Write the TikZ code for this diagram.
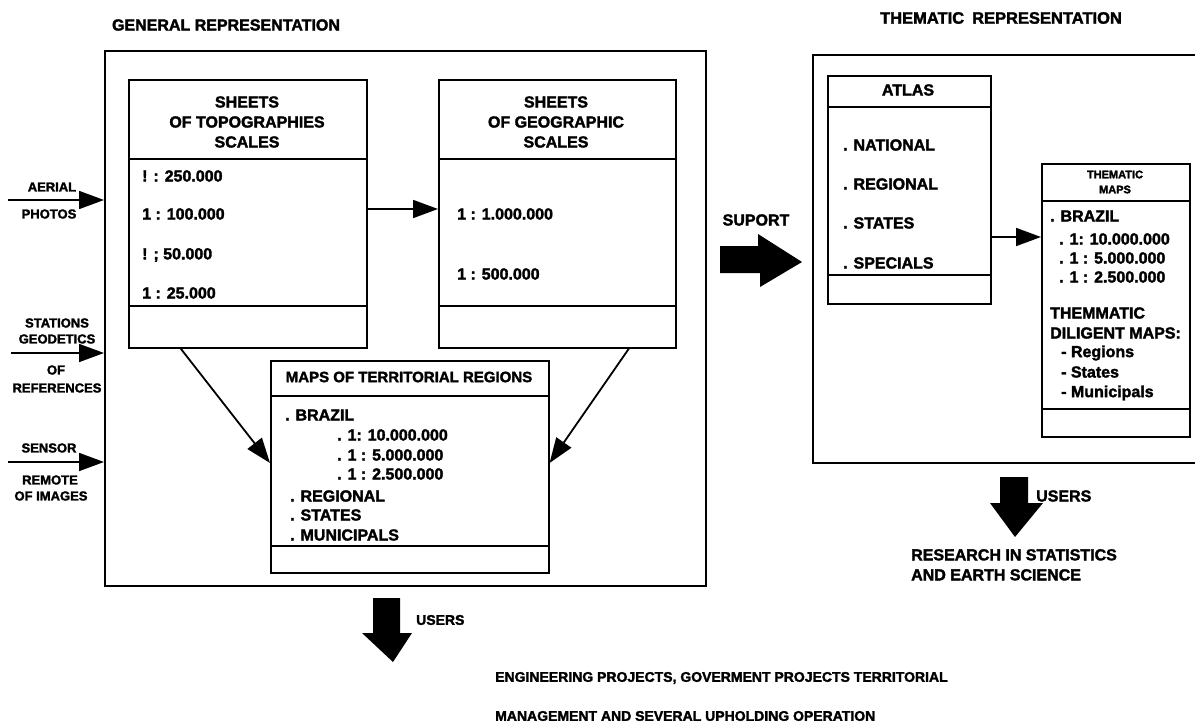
\documentclass[tikz,border=0pt]{standalone}
\usepackage{fontspec}
\setmainfont{Liberation Sans}[BoldFeatures={FakeBold=2}]
\usetikzlibrary{arrows.meta,calc}
\begin{document}
\begin{tikzpicture}[x=1pt,y=-1pt,
  frame/.style={draw, line width=1.6pt, inner sep=0pt, anchor=north west},
  divider/.style={line width=1.6pt},
  txt/.style={font=\bfseries\fontsize{16}{20}\selectfont, inner sep=0pt, anchor=west},
  ctxt/.style={font=\bfseries\fontsize{16}{20}\selectfont, inner sep=0pt, align=center},
  lbl/.style={font=\bfseries\fontsize{13}{16}\selectfont, inner sep=0pt, align=center},
  arr/.style={line width=1.8pt, -{Triangle[length=25pt,width=18pt]}},
  fatarrow/.style={fill=black}
]
\useasboundingbox (0,0) rectangle (1195,728);

% ---------- titles
\node[ctxt] (tgen) at (226,25) {GENERAL REPRESENTATION};
\node[ctxt, font=\bfseries\fontsize{16.5}{20}\selectfont] (tthem) at (1001,18) {THEMATIC\hspace{8pt}REPRESENTATION};

% ---------- general representation frame
\node[frame, minimum width=601pt, minimum height=535pt] (big) at (104,50) {};

% topographic sheets
\node[frame, minimum width=238pt, minimum height=268pt] (topo) at (128,79) {};
\draw[divider] (128,159) -- (366,159);
\draw[divider] (128,306) -- (366,306);
\node[ctxt] (topoh) at (247,122) {SHEETS\\OF TOPOGRAPHIES\\SCALES};
\node[txt] (t1) at (142,176) {! : 250.000};
\node[txt] (t2) at (142,214) {1 : 100.000};
\node[txt] (t3) at (142,255) {! ; 50.000};
\node[txt] (t4) at (142,293) {1 : 25.000};

% geographic sheets
\node[frame, minimum width=237pt, minimum height=268pt] (geo) at (438,79) {};
\draw[divider] (438,159) -- (675,159);
\draw[divider] (438,306) -- (675,306);
\node[ctxt] (geoh) at (556,122) {SHEETS\\OF GEOGRAPHIC\\SCALES};
\node[txt] (g1) at (457,214) {1 : 1.000.000};
\node[txt] (g2) at (457,274) {1 : 500.000};

% maps of territorial regions
\node[frame, minimum width=278pt, minimum height=212pt] (maps) at (270,360) {};
\draw[divider] (270,396) -- (548,396);
\draw[divider] (270,546) -- (548,546);
\node[ctxt, font=\bfseries\fontsize{15}{18}\selectfont] (mapsh) at (409,377) {MAPS OF TERRITORIAL REGIONS};
\node[txt] (m1) at (285,415) {. BRAZIL};
\node[txt] (m2) at (337,435) {. 1: 10.000.000};
\node[txt] (m3) at (337,455) {. 1 : 5.000.000};
\node[txt] (m4) at (337,474) {. 1 : 2.500.000};
\node[txt] (m5) at (290,496) {. REGIONAL};
\node[txt] (m6) at (290,515) {. STATES};
\node[txt] (m7) at (290,535) {. MUNICIPALS};

% input labels
\node[lbl] (la1) at (52,187) {AERIAL};
\node[lbl] (la2) at (49,214) {PHOTOS};
\node[lbl] (lb1) at (57,323) {STATIONS};
\node[lbl] (lb2) at (57,339) {GEODETICS};
\node[lbl] (lb3) at (56,370) {OF};
\node[lbl] (lb4) at (57,388) {REFERENCES};
\node[lbl] (lc1) at (49,448) {SENSOR};
\node[lbl] (lc2) at (50,480) {REMOTE};
\node[lbl] (lc3) at (51,496) {OF IMAGES};

\coordinate (ia) at (8,200);
\coordinate (ib) at (11,353);
\coordinate (ic) at (8,462);
\draw[arr] (ia) -- (ia -| big.west);
\draw[arr] (ib) -- (ib -| big.west);
\draw[arr] (ic) -- (ic -| big.west);

% internal connectors
\coordinate (r1) at (0,209);
\coordinate (r2) at (0,463);
\draw[arr] (topo.east |- r1) -- (geo.west |- r1);
\draw[arr] ($(topo.south west)!0.22!(topo.south east)$) -- (maps.west |- r2);
\draw[arr] ($(geo.south west)!0.80!(geo.south east)$) -- (maps.east |- r2);

% ---------- support arrow
\node[ctxt] (sup) at (756,220) {SUPORT};
\fill[fatarrow] (720,246) -- (758,246) -- (758,234) -- (802,262) -- (760,287) -- (760,273) -- (720,273) -- cycle;

% ---------- thematic representation frame
\draw[divider] (1200,55) -- (813,55) -- (813,463) -- (1200,463);

% atlas
\node[frame, minimum width=163pt, minimum height=228pt] (atlas) at (827,75) {};
\draw[divider] (827,107) -- (990,107);
\draw[divider] (827,275) -- (990,275);
\node[ctxt] (atlash) at (908,90) {ATLAS};
\node[txt] (a1) at (843,145) {. NATIONAL};
\node[txt] (a2) at (843,184) {. REGIONAL};
\node[txt] (a3) at (843,223) {. STATES};
\node[txt] (a4) at (843,263) {. SPECIALS};

% thematic maps
\node[frame, minimum width=148pt, minimum height=273pt] (them) at (1041,163) {};
\draw[divider] (1041,201) -- (1189,201);
\draw[divider] (1041,409) -- (1189,409);
\node[ctxt, font=\bfseries\fontsize{11}{15}\selectfont] (themh) at (1115,182) {THEMATIC\\MAPS};
\node[txt] (e1) at (1050,216) {. BRAZIL};
\node[txt] (e2) at (1059,239) {. 1: 10.000.000};
\node[txt] (e3) at (1059,258) {. 1 : 5.000.000};
\node[txt] (e4) at (1059,277) {. 1 : 2.500.000};
\node[txt] (e5) at (1050,313) {THEMMATIC};
\node[txt] (e6) at (1050,333) {DILIGENT MAPS:};
\node[txt] (e7) at (1061,353) {- Regions};
\node[txt] (e8) at (1061,372) {- States};
\node[txt] (e9) at (1061,393) {- Municipals};

\coordinate (r3) at (0,237);
\draw[arr] (atlas.east |- r3) -- (them.west |- r3);

% ---------- users (thematic)
\fill[fatarrow] (1000,477) -- (1028,477) -- (1028,503) -- (1043,503) -- (1015,537) -- (990,503) -- (1000,503) -- cycle;
\node[txt] (u2) at (1036,496) {USERS};
\node[txt, align=left, anchor=north west] (res) at (911,549) {RESEARCH IN STATISTICS\\AND EARTH SCIENCE};

% ---------- users (general)
\fill[fatarrow] (373,598) -- (400,598) -- (400,633) -- (412,633) -- (393,662) -- (362,633) -- (373,633) -- cycle;
\node[txt, font=\bfseries\fontsize{14}{17}\selectfont] (u1) at (416,620) {USERS};
\node[txt, font=\bfseries\fontsize{14}{17}\selectfont] (eng1) at (495,678) {ENGINEERING PROJECTS, GOVERMENT PROJECTS TERRITORIAL};
\node[txt, font=\bfseries\fontsize{14}{17}\selectfont] (eng2) at (495,716) {MANAGEMENT AND SEVERAL UPHOLDING OPERATION};
\end{tikzpicture}
\end{document}
